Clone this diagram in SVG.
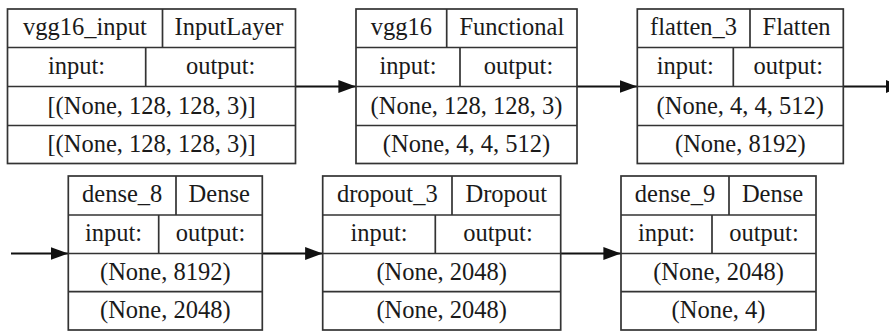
<svg xmlns="http://www.w3.org/2000/svg" width="889" height="332" viewBox="0 0 889 332">
  <style>
    .box { fill: #ffffff; stroke: #333333; stroke-width: 1.7; }
    .sep { stroke: #333333; stroke-width: 1.7; fill: none; }
    .lbl { font-family: 'Liberation Serif', 'DejaVu Serif', serif; font-size: 24.5px; fill: #1a1a1a; text-anchor: middle; }
    .edge { stroke: #111111; stroke-width: 2; fill: none; }
  </style>
  <defs>
    <marker id="arrow" markerWidth="18" markerHeight="13" refX="17.6" refY="6.4" orient="auto" markerUnits="userSpaceOnUse">
      <path d="M0,0 L17.6,6.4 L0,12.8 Z" fill="#111111"/>
    </marker>
  </defs>
  <rect width="889" height="332" fill="#ffffff"/>

  <!-- connectors -->
  <g id="edges">
    <line class="edge" x1="295.5" y1="86.5" x2="356" y2="86.5" marker-end="url(#arrow)"/>
    <line class="edge" x1="577" y1="86.5" x2="637.3" y2="86.5" marker-end="url(#arrow)"/>
    <line class="edge" x1="843.3" y1="86.5" x2="903.6" y2="86.5" marker-end="url(#arrow)"/>
    <line class="edge" x1="11" y1="253.5" x2="68.3" y2="253.5" marker-end="url(#arrow)"/>
    <line class="edge" x1="262.3" y1="253.5" x2="322.7" y2="253.5" marker-end="url(#arrow)"/>
    <line class="edge" x1="560.7" y1="253.5" x2="621" y2="253.5" marker-end="url(#arrow)"/>
  </g>

  <!-- text for all layers uses the same serif face -->
  <g font-family="Liberation Serif, serif">

  <!-- vgg16_input -->
  <g id="vgg16_input">
    <rect class="box" x="7.5" y="9" width="288" height="154.5"/>
    <path class="sep" d="M7.5,47.5 H295.5 M7.5,86.5 H295.5 M7.5,125.5 H295.5 M162.5,9 V47.5 M145.7,47.5 V86.5"/>
    <text class="lbl" x="85" y="35">vgg16_input</text>
    <text class="lbl" x="229" y="35">InputLayer</text>
    <text class="lbl" x="76.6" y="73.5">input:</text>
    <text class="lbl" x="220.6" y="73.5">output:</text>
    <text class="lbl" x="151.5" y="113.5">[(None, 128, 128, 3)]</text>
    <text class="lbl" x="151.5" y="152">[(None, 128, 128, 3)]</text>
  </g>

  <!-- vgg16 -->
  <g id="vgg16">
    <rect class="box" x="356" y="9" width="221" height="154.5"/>
    <path class="sep" d="M356,47.5 H577 M356,86.5 H577 M356,125.5 H577 M446.7,9 V47.5 M460,47.5 V86.5"/>
    <text class="lbl" x="401.3" y="35">vgg16</text>
    <text class="lbl" x="511.8" y="35">Functional</text>
    <text class="lbl" x="408" y="73.5">input:</text>
    <text class="lbl" x="518.5" y="73.5">output:</text>
    <text class="lbl" x="466.5" y="113.5">(None, 128, 128, 3)</text>
    <text class="lbl" x="466.5" y="152">(None, 4, 4, 512)</text>
  </g>

  <!-- flatten_3 -->
  <g id="flatten_3">
    <rect class="box" x="637.3" y="9" width="206" height="154.5"/>
    <path class="sep" d="M637.3,47.5 H843.3 M637.3,86.5 H843.3 M637.3,125.5 H843.3 M750,9 V47.5 M733.3,47.5 V86.5"/>
    <text class="lbl" x="693.6" y="35">flatten_3</text>
    <text class="lbl" x="796.6" y="35">Flatten</text>
    <text class="lbl" x="685.3" y="73.5">input:</text>
    <text class="lbl" x="788.3" y="73.5">output:</text>
    <text class="lbl" x="740.3" y="113.5">(None, 4, 4, 512)</text>
    <text class="lbl" x="740.3" y="152">(None, 8192)</text>
  </g>

  <!-- dense_8 -->
  <g id="dense_8">
    <rect class="box" x="68.3" y="176" width="194" height="154"/>
    <path class="sep" d="M68.3,215 H262.3 M68.3,253.5 H262.3 M68.3,291.7 H262.3 M176,176 V215 M158.7,215 V253.5"/>
    <text class="lbl" x="122.2" y="202">dense_8</text>
    <text class="lbl" x="219.2" y="202">Dense</text>
    <text class="lbl" x="113.5" y="241">input:</text>
    <text class="lbl" x="210.5" y="241">output:</text>
    <text class="lbl" x="165.3" y="280">(None, 8192)</text>
    <text class="lbl" x="165.3" y="318">(None, 2048)</text>
  </g>

  <!-- dropout_3 -->
  <g id="dropout_3">
    <rect class="box" x="322.7" y="176" width="238" height="154"/>
    <path class="sep" d="M322.7,215 H560.7 M322.7,253.5 H560.7 M322.7,291.7 H560.7 M452,176 V215 M435.3,215 V253.5"/>
    <text class="lbl" x="387.3" y="202">dropout_3</text>
    <text class="lbl" x="506.3" y="202">Dropout</text>
    <text class="lbl" x="379" y="241">input:</text>
    <text class="lbl" x="498" y="241">output:</text>
    <text class="lbl" x="441.7" y="280">(None, 2048)</text>
    <text class="lbl" x="441.7" y="318">(None, 2048)</text>
  </g>

  <!-- dense_9 -->
  <g id="dense_9">
    <rect class="box" x="621" y="176" width="195" height="154"/>
    <path class="sep" d="M621,215 H816 M621,253.5 H816 M621,291.7 H816 M729,176 V215 M712,215 V253.5"/>
    <text class="lbl" x="675" y="202">dense_9</text>
    <text class="lbl" x="772.5" y="202">Dense</text>
    <text class="lbl" x="666.5" y="241">input:</text>
    <text class="lbl" x="764" y="241">output:</text>
    <text class="lbl" x="718.5" y="280">(None, 2048)</text>
    <text class="lbl" x="718.5" y="318">(None, 4)</text>
  </g>

  </g>
</svg>
